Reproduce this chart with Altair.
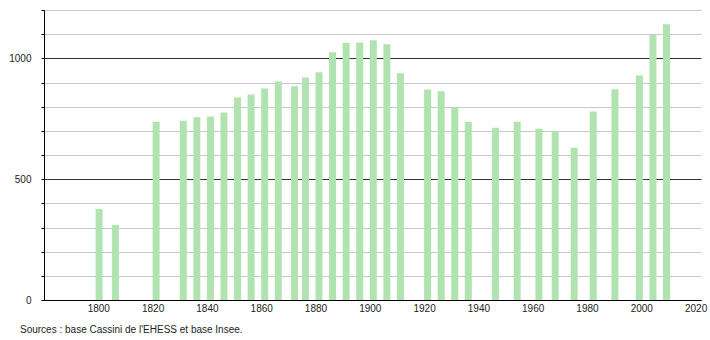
import altair as alt
import pandas as pd

years = [1800, 1806, 1821, 1831, 1836, 1841, 1846, 1851, 1856, 1861, 1866, 1872,
         1876, 1881, 1886, 1891, 1896, 1901, 1906, 1911, 1921, 1926, 1931, 1936,
         1946, 1954, 1962, 1968, 1975, 1982, 1990, 1999, 2004, 2009]
population = [377, 310, 738, 742, 756, 759, 776, 838, 850, 875, 904, 885,
              921, 942, 1025, 1064, 1066, 1075, 1058, 938, 871, 864, 799, 738,
              713, 738, 709, 699, 630, 780, 872, 929, 1098, 1141]

x_ticks = [1800, 1820, 1840, 1860, 1880, 1900, 1920, 1940, 1960, 1980, 2000, 2020]
y_ticks = [0, 100, 200, 300, 400, 500, 600, 700, 800, 900, 1000, 1100, 1200]
source = "Sources : base Cassini de l'EHESS et base Insee."

df = pd.DataFrame({"annee": years, "population": population})

FONT = "Liberation Sans"

chart = alt.Chart(df).mark_bar(size=7, color="#b0e3b0", xOffset=0.8).encode(
    x=alt.X("annee:Q",
            scale=alt.Scale(domain=[1780, 2022], nice=False, zero=False, padding=0),
            axis=alt.Axis(values=x_ticks, format="d", title=None, grid=False,
                          ticks=False, labelPadding=3, labelFontSize=10,
                          labelFont=FONT, labelColor="#222",
                          domainColor="#000", domainWidth=1)),
    y=alt.Y("population:Q",
            scale=alt.Scale(domain=[0, 1200], nice=False, padding=0),
            axis=alt.Axis(values=y_ticks, title=None,
                          labelExpr="(datum.value % 500 == 0) ? datum.value : ''",
                          grid=True,
                          gridColor={"condition": {"test": "datum.value % 500 == 0",
                                                   "value": "#333333"},
                                     "value": "#c8c8c8"},
                          gridWidth=1,
                          tickSize=3, tickColor="#000", labelPadding=10,
                          labelFontSize=10, labelFont=FONT, labelColor="#222",
                          domainColor="#000", domainWidth=1)),
).properties(
    width=657,
    height=290,
    autosize=alt.AutoSizeParams(type="none"),
    padding={"left": 44, "top": 10, "right": 9, "bottom": 40},
    title=alt.TitleParams(source, orient="bottom", anchor="start", frame="group",
                          dx=-24, offset=12, fontSize=10, fontWeight="normal",
                          font=FONT, color="#222"),
).configure_view(stroke=None)

chart.save("out.html", embed_options={"renderer": "svg", "actions": False})
